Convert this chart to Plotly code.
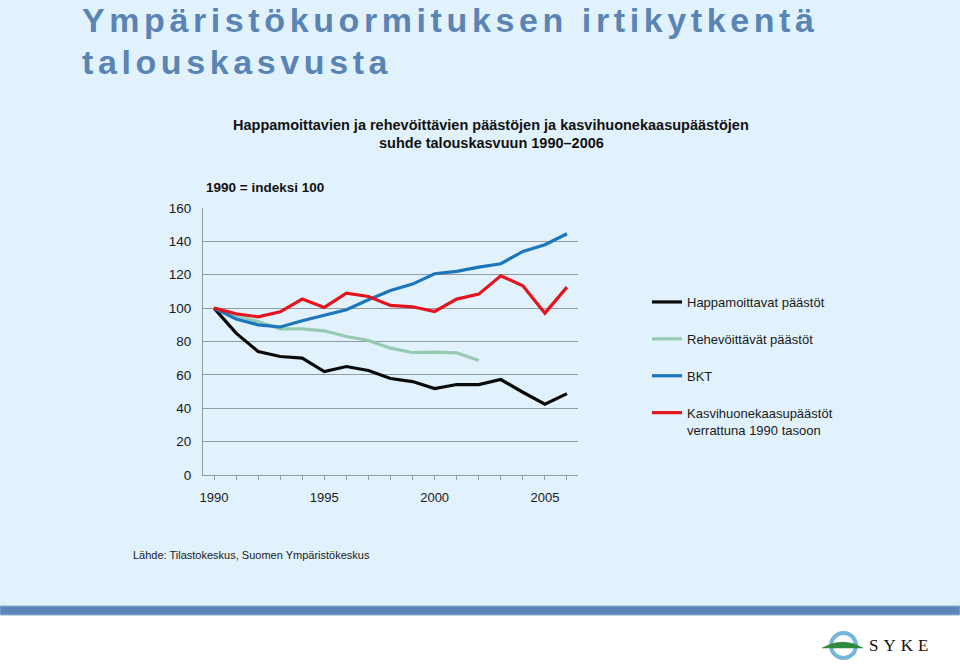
import plotly.graph_objects as go

W, H = 960, 667

years = list(range(1990, 2007))
happamoittavat = [100, 85, 74, 71, 70, 62, 65, 62.6, 57.8, 56, 51.8, 54.2, 54.2, 57.2, 49.6, 42.4, 48.8]
rehevoittavat = [100, 95.5, 92, 87.6, 87.6, 86.4, 83, 80.6, 76, 73.4, 73.6, 73.2, 68.6,
                 None, None, None, None]
bkt = [100, 93.5, 90, 88.7, 92.4, 95.6, 99, 105, 110.6, 114.4, 120.6, 122, 124.6, 126.6, 134, 138, 144.6]
kasvihuone = [100, 96.6, 94.8, 97.8, 105.4, 100.4, 109, 107, 101.6, 100.8, 98, 105.4, 108.4,
              119.4, 113.4, 97, 112.6]

series_names = ["Happamoittavat päästöt", "Rehevöittävät päästöt", "BKT",
                "Kasvihuonekaasupäästöt<br>verrattuna 1990 tasoon"]
series_values = [happamoittavat, rehevoittavat, bkt, kasvihuone]
series_colors = ["#0a0a0a", "#97c9b3", "#1b76bb", "#e3141d"]

x_tickvals = years
x_ticktext = [str(y) if y % 5 == 0 else "" for y in years]
y_tickvals = list(range(0, 161, 20))

BG = "#e1f2fd"
GRID = "#929ba3"
FONT = "Liberation Sans, Arial, sans-serif"


def px(x):
    return x / W


def py(y):
    return 1 - y / H


fig = go.Figure()
for i, (name, vals, col) in enumerate(zip(series_names, series_values, series_colors)):
    fig.add_trace(go.Scatter(
        x=years, y=vals, mode="lines", name=name,
        line=dict(color=col, width=3.2),
        legendgroup=f"g{i}", connectgaps=False,
    ))

fig.update_layout(
    template="none",
    width=W, height=H,
    margin=dict(l=0, r=0, t=0, b=0, pad=0, autoexpand=False),
    paper_bgcolor=BG, plot_bgcolor=BG,
    font=dict(family=FONT, size=13, color="#1a1a1a"),
    showlegend=True,
    legend=dict(
        x=px(647), y=py(287), xanchor="left", yanchor="top",
        bgcolor="rgba(0,0,0,0)", borderwidth=0, traceorder="grouped", tracegroupgap=17,
        valign="top", font=dict(family=FONT, size=13, color="#1a1a1a"),
    ),
    xaxis=dict(
        domain=[px(203), px(578)], range=[1989.5, 2006.5], automargin=False,
        tickmode="array", tickvals=x_tickvals, ticktext=x_ticktext,
        ticks="outside", ticklen=4, tickcolor=GRID, tickwidth=1,
        showline=True, linecolor=GRID, linewidth=1,
        showgrid=False, zeroline=False,
        tickfont=dict(size=13, color="#1a1a1a"), ticklabelstandoff=6,
    ),
    yaxis=dict(
        domain=[py(475), py(208)], range=[0, 160], automargin=False,
        tickmode="array", tickvals=y_tickvals,
        ticks="", showline=True, linecolor=GRID, linewidth=1,
        showgrid=True, gridcolor=GRID, gridwidth=1, zeroline=False,
        tickfont=dict(size=13.5, color="#1a1a1a"), ticklabelstandoff=8,
    ),
)

title_style = "letter-spacing:4.6px"
annotations = [
    dict(text=f'<span style="{title_style}"><b>Ympäristökuormituksen irtikytkentä</b></span>',
         x=px(81), y=py(19.5), xanchor="left", yanchor="middle", borderpad=0,
         font=dict(family=FONT, size=34, color="#5a84b4")),
    dict(text=f'<span style="{title_style}"><b>talouskasvusta</b></span>',
         x=px(81), y=py(62.5), xanchor="left", yanchor="middle", borderpad=0,
         font=dict(family=FONT, size=34, color="#5a84b4")),
    dict(text="<b>Happamoittavien ja rehevöittävien päästöjen ja kasvihuonekaasupäästöjen</b>",
         x=px(491), y=py(125), xanchor="center", yanchor="middle",
         font=dict(family=FONT, size=14.5, color="#111111")),
    dict(text="<b>suhde talouskasvuun 1990–2006</b>",
         x=px(491), y=py(143), xanchor="center", yanchor="middle",
         font=dict(family=FONT, size=14.5, color="#111111")),
    dict(text="<b>1990 = indeksi 100</b>",
         x=px(204), y=py(187), xanchor="left", yanchor="middle",
         font=dict(family=FONT, size=13.5, color="#111111")),
    dict(text="Lähde: Tilastokeskus, Suomen Ympäristökeskus",
         x=px(131), y=py(555), xanchor="left", yanchor="middle",
         font=dict(family=FONT, size=11, color="#1a1a1a")),
    dict(text='<span style="letter-spacing:5px">SYKE</span>',
         x=px(867), y=py(645), xanchor="left", yanchor="middle",
         font=dict(family="Liberation Serif, Times New Roman, serif", size=17, color="#111111")),
]
for a in annotations:
    a.update(xref="paper", yref="paper", showarrow=False)
fig.update_layout(annotations=annotations)

shapes = [
    # white footer band
    dict(type="rect", xref="paper", yref="paper", x0=0, x1=1, y0=0, y1=py(615),
         fillcolor="#ffffff", line=dict(width=0), layer="below"),
    # blue stripe
    dict(type="rect", xref="paper", yref="paper", x0=0, x1=1, y0=py(615), y1=py(606),
         fillcolor="#5b84b8", line=dict(color="#8fb3cc", width=1), layer="below"),
    # logo ring
    dict(type="circle", xref="paper", yref="paper", x0=px(831), x1=px(856), y0=py(658), y1=py(633),
         fillcolor="#ffffff", line=dict(color="#74b6dc", width=4)),
    # logo hill
    dict(type="path", xref="paper", yref="paper",
         path=f"M {px(822)},{py(648)} Q {px(843)},{py(636)} {px(863)},{py(648)} Z",
         fillcolor="#2f8a3e", line=dict(color="#2f8a3e", width=0.5)),
]
fig.update_layout(shapes=shapes)

fig.write_html("out.html")
